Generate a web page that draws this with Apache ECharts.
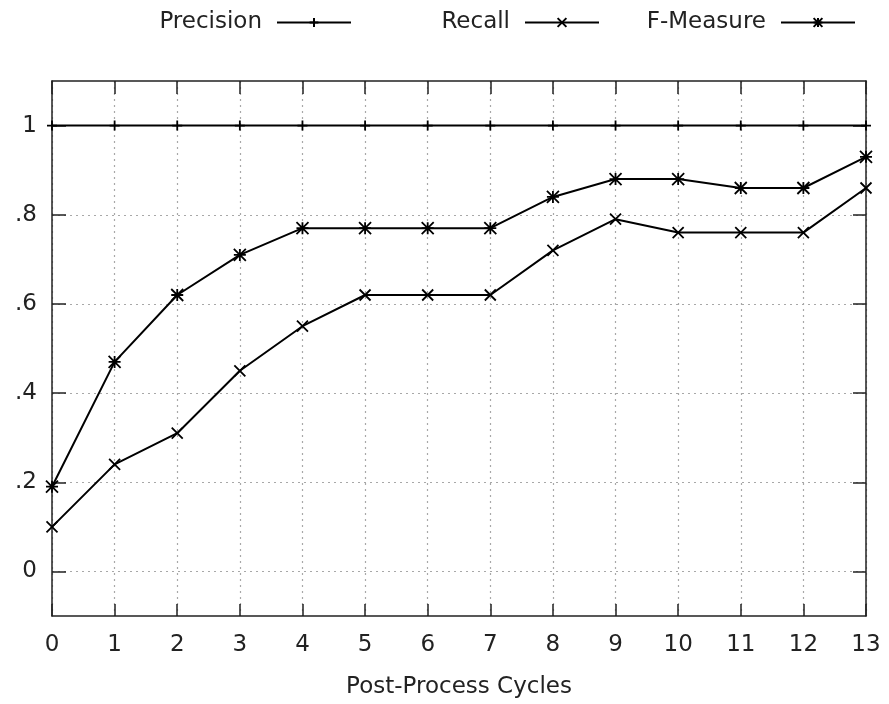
<!DOCTYPE html>
<html>
<head>
<meta charset="utf-8">
<script src="https://cdn.jsdelivr.net/npm/echarts@6/dist/echarts.min.js"></script>
<style>
html,body{margin:0;padding:0;background:#fff;}
#chart{width:889px;height:704px;}
</style>
</head>
<body>
<div id="chart"></div>
<script>
const cycles = [0,1,2,3,4,5,6,7,8,9,10,11,12,13];
const precision = [1,1,1,1,1,1,1,1,1,1,1,1,1,1];
const recall = [0.10,0.24,0.31,0.45,0.55,0.62,0.62,0.62,0.72,0.79,0.76,0.76,0.76,0.86];
const fMeasure = [0.19,0.47,0.62,0.71,0.77,0.77,0.77,0.77,0.84,0.88,0.88,0.86,0.86,0.93];
const yTicks = [0,0.2,0.4,0.6,0.8,1];
const xAxisName = 'Post-Process Cycles';
const seriesNames = ['Precision','Recall','F-Measure'];

const FONT = 'DejaVu Sans';
const FS = 23;
const TXT = '#222';
const INK = '#000';
const plusPath = 'path://M-5,0L5,0M0,-5L0,5';
const crossPath = 'path://M-5,-5L5,5M-5,5L5,-5';
const starPath = 'path://M-5,0L5,0M0,-5L0,5M-5,-5L5,5M-5,5L5,-5';

function pairs(vals){ return cycles.map((c,i)=>[c, vals[i]]); }
function fmtY(v){ const r = Math.round(v*10)/10; return String(r).replace(/^0\./,'.'); }

const chart = echarts.init(document.getElementById('chart'), null, {renderer:'canvas'});

function mkSeries(name, vals, path, size){
  return {
    name, type:'line', data: pairs(vals),
    xAxisIndex:0, yAxisIndex:0,
    symbol: path, symbolSize: size, symbolKeepAspect: true,
    showAllSymbol: true,
    lineStyle:{color:INK, width:2},
    itemStyle:{color:INK, borderColor:INK, borderWidth:1.8},
    emphasis:{disabled:true},
    z: 5
  };
}

function mkLegend(name, right){
  return {
    data:[name], right: right, top: 11, padding: 0,
    align: 'right', itemWidth: 74, itemHeight: 11,
    selectedMode: false,
    textStyle:{fontFamily:FONT, fontSize:FS, color:TXT, padding:[0,10,0,0]}
  };
}

const tickStyle = {lineStyle:{color:'#222', width:1.5}};
const gridDots = {show:true, lineStyle:{color:'#a8a8a8', width:1.2, type:[2,4]}};

chart.setOption({
  animation: false,
  backgroundColor: '#fff',
  textStyle: {fontFamily: FONT},
  legend: [
    mkLegend(seriesNames[0], 889-352),
    mkLegend(seriesNames[1], 889-600),
    mkLegend(seriesNames[2], 889-856)
  ],
  grid: {left:52, right:23, top:81, bottom:85, containLabel:false},
  xAxis: [
    {
      type:'value', min:0, max:13, interval:1, position:'bottom',
      name: xAxisName, nameLocation:'middle', nameGap:60,
      nameTextStyle:{fontFamily:FONT, fontSize:FS, color:TXT},
      axisLine:{show:true, onZero:false, lineStyle:{color:'#222', width:1.5}},
      axisTick:{show:true, inside:true, length:12, ...tickStyle},
      axisLabel:{fontFamily:FONT, fontSize:FS, color:TXT, margin:18},
      splitLine: gridDots
    },
    {
      type:'value', min:0, max:13, interval:1, position:'top',
      axisLine:{show:true, onZero:false, lineStyle:{color:'#222', width:1.5}},
      axisTick:{show:true, inside:true, length:13, ...tickStyle},
      axisLabel:{show:false},
      splitLine:{show:false}
    }
  ],
  yAxis: [
    {
      type:'value', min:-0.1, max:1.1, position:'left',
      axisLine:{show:true, onZero:false, lineStyle:{color:'#222', width:1.5}},
      axisTick:{show:true, inside:true, length:14, customValues: yTicks, ...tickStyle},
      axisLabel:{fontFamily:FONT, fontSize:FS, color:TXT, margin:15, customValues: yTicks, formatter: fmtY},
      splitLine: gridDots
    },
    {
      type:'value', min:-0.1, max:1.1, position:'right',
      axisLine:{show:true, onZero:false, lineStyle:{color:'#222', width:1.5}},
      axisTick:{show:true, inside:true, length:13, customValues: yTicks, ...tickStyle},
      axisLabel:{show:false, customValues: yTicks},
      splitLine:{show:false}
    }
  ],
  series: [
    mkSeries(seriesNames[0], precision, plusPath, 10),
    mkSeries(seriesNames[1], recall, crossPath, 11),
    mkSeries(seriesNames[2], fMeasure, starPath, 12)
  ]
});
</script>
</body>
</html>
